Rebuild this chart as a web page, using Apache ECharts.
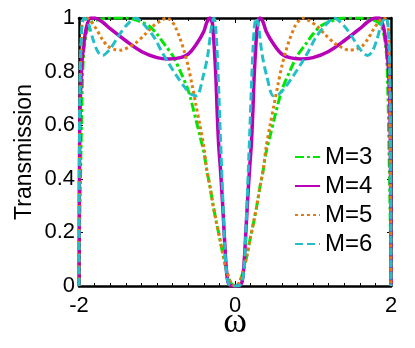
<!DOCTYPE html>
<html>
<head>
<meta charset="utf-8">
<script src="https://cdn.jsdelivr.net/npm/echarts@6/dist/echarts.min.js"></script>
<style>
html,body{margin:0;padding:0;background:#fff;}
#chart{width:415px;height:348px;}
</style>
</head>
<body>
<div id="chart"></div>
<script>
// Series names
var seriesNames = ['M=3', 'M=4', 'M=5', 'M=6'];
// Axis ticks
var xTicks = [-2, 0, 2];
var yTicks = [0, 0.2, 0.4, 0.6, 0.8, 1];

// M=3 (green, dash-dot)
var w3 = [-2.0,-1.99,-1.975,-1.96,-1.94,-1.9,-1.85,-1.8,-1.6,-1.4,-1.3,-1.2,-1.1,-1.0,-0.9,-0.8,-0.7,-0.6,-0.5,-0.45,-0.4,-0.36,-0.32,-0.28,-0.24,-0.19,-0.15,-0.1,-0.05,0,
          0.05,0.1,0.15,0.19,0.24,0.28,0.32,0.36,0.4,0.45,0.5,0.6,0.7,0.8,0.9,1.0,1.1,1.2,1.3,1.4,1.6,1.8,1.85,1.9,1.94,1.96,1.975,1.99,2.0];
var t3 = [0,0.25,0.5,0.72,0.87,0.95,0.98,0.99,1.0,1.0,0.995,0.985,0.97,0.94,0.9,0.86,0.8,0.73,0.62,0.56,0.5,0.43,0.37,0.3,0.24,0.17,0.11,0.05,0.01,0,
          0.01,0.05,0.11,0.17,0.24,0.3,0.37,0.43,0.5,0.56,0.62,0.73,0.8,0.86,0.9,0.94,0.97,0.985,0.995,1.0,1.0,0.99,0.98,0.95,0.87,0.72,0.5,0.25,0];

// M=4 (magenta, solid)
var w4 = [-2.0,-1.99,-1.97,-1.94,-1.9,-1.85,-1.8,-1.7,-1.6,-1.4,-1.2,-1.0,-0.85,-0.7,-0.6,-0.5,-0.4,-0.36,-0.32,-0.29,-0.27,-0.245,-0.23,-0.21,-0.19,-0.17,-0.15,-0.13,-0.11,-0.09,-0.06,0,
          0.06,0.09,0.11,0.13,0.15,0.17,0.19,0.21,0.23,0.245,0.27,0.29,0.32,0.36,0.4,0.5,0.6,0.7,0.85,1.0,1.2,1.4,1.6,1.7,1.8,1.85,1.9,1.94,1.97,1.99,2.0];
var t4 = [0,0.6,0.8,0.9,0.97,1.0,1.0,0.985,0.96,0.915,0.875,0.852,0.847,0.852,0.865,0.9,0.95,0.985,1.0,0.98,0.91,0.78,0.66,0.53,0.45,0.36,0.26,0.15,0.06,0.015,0.002,0,
          0.002,0.015,0.06,0.15,0.26,0.36,0.45,0.53,0.66,0.78,0.91,0.98,1.0,0.985,0.95,0.9,0.865,0.852,0.847,0.852,0.875,0.915,0.96,0.985,1.0,1.0,0.97,0.9,0.8,0.6,0];

// M=5 (orange, dotted)
var w5 = [-2.0,-1.99,-1.97,-1.95,-1.9,-1.84,-1.77,-1.7,-1.63,-1.55,-1.46,-1.37,-1.28,-1.15,-1.05,-0.95,-0.87,-0.82,-0.77,-0.7,-0.65,-0.6,-0.55,-0.5,-0.45,-0.4,-0.36,-0.32,-0.28,-0.24,-0.19,-0.15,-0.1,-0.05,0,
          0.05,0.1,0.15,0.19,0.24,0.28,0.32,0.36,0.4,0.45,0.5,0.55,0.6,0.65,0.7,0.77,0.82,0.87,0.95,1.05,1.15,1.28,1.37,1.46,1.55,1.63,1.7,1.77,1.84,1.9,1.95,1.97,1.99,2.0];
var t5 = [0,0.6,0.93,0.99,1.0,0.985,0.955,0.92,0.895,0.883,0.88,0.89,0.905,0.94,0.97,0.99,1.0,0.99,0.97,0.92,0.875,0.82,0.75,0.675,0.6,0.52,0.43,0.37,0.3,0.24,0.17,0.11,0.05,0.01,0,
          0.01,0.05,0.11,0.17,0.24,0.3,0.37,0.43,0.52,0.6,0.675,0.75,0.82,0.875,0.92,0.97,0.99,1.0,0.99,0.97,0.94,0.905,0.89,0.88,0.883,0.895,0.92,0.955,0.985,1.0,0.99,0.93,0.6,0];

// M=6 (cyan, dashed)
var w6 = [-2.0,-1.995,-1.985,-1.96,-1.93,-1.88,-1.82,-1.76,-1.7,-1.6,-1.5,-1.4,-1.27,-1.15,-1.03,-0.95,-0.86,-0.75,-0.64,-0.56,-0.49,-0.41,-0.35,-0.3,-0.27,-0.25,-0.23,-0.21,-0.19,-0.17,-0.15,-0.13,-0.11,-0.09,-0.06,0,
          0.06,0.09,0.11,0.13,0.15,0.17,0.19,0.21,0.23,0.25,0.27,0.3,0.35,0.41,0.49,0.56,0.64,0.75,0.86,0.95,1.03,1.15,1.27,1.4,1.5,1.6,1.7,1.76,1.82,1.88,1.93,1.96,1.985,1.995,2.0];
var t6 = [0,0.5,0.8,0.98,1.0,0.98,0.92,0.875,0.86,0.885,0.93,0.97,1.0,0.97,0.925,0.88,0.835,0.785,0.74,0.715,0.71,0.78,0.86,0.97,1.0,0.97,0.88,0.74,0.58,0.43,0.28,0.14,0.05,0.015,0.002,0,
          0.002,0.015,0.05,0.14,0.28,0.43,0.58,0.74,0.88,0.97,1.0,0.97,0.86,0.78,0.71,0.715,0.74,0.785,0.835,0.88,0.925,0.97,1.0,0.97,0.93,0.885,0.86,0.875,0.92,0.98,1.0,0.98,0.8,0.5,0];

function pairs(w, t) {
  var out = [];
  for (var i = 0; i < w.length; i++) out.push([w[i], t[i]]);
  return out;
}

var FONT = 'Liberation Sans, Arial, sans-serif';
var chart = echarts.init(document.getElementById('chart'), null, {renderer: 'canvas'});

function makeSeries(name, w, t, color, type, width) {
  return {
    name: name,
    type: 'line',
    data: pairs(w, t),
    symbol: 'none',
    showSymbol: false,
    smooth: 0.3,
    lineStyle: {color: color, width: width, type: type, cap: 'butt'},
    itemStyle: {color: color},
    xAxisIndex: 0,
    yAxisIndex: 0
  };
}

var axisLineStyle = {color: '#000', width: 2.5};

chart.setOption({
  animation: false,
  backgroundColor: '#fff',
  grid: {left: 79, right: 24, top: 18, bottom: 62, containLabel: false, outerBoundsMode: 'none'},
  legend: {
    orient: 'vertical',
    left: 294,
    top: 145,
    padding: 0,
    itemWidth: 25,
    itemHeight: 14,
    itemGap: 5,
    data: seriesNames,
    itemStyle: {opacity: 0},
    textStyle: {fontFamily: FONT, fontSize: 24, color: '#000', lineHeight: 24}
  },
  xAxis: [{
    type: 'value',
    min: -2, max: 2, interval: 2,
    position: 'bottom',
    name: 'ω',
    nameLocation: 'middle',
    nameMoveOverlap: false,
    nameGap: 19,
    nameTextStyle: {fontFamily: 'Liberation Serif, DejaVu Serif, serif', fontSize: 36, color: '#000', lineHeight: 36},
    axisLine: {show: true, onZero: false, lineStyle: axisLineStyle},
    axisTick: {show: true, inside: true, length: 5, lineStyle: {color: '#000', width: 1}},
    minorTick: {show: true, splitNumber: 10, length: 3, lineStyle: {color: '#000', width: 1}},
    splitLine: {show: false},
    axisLabel: {fontFamily: FONT, fontSize: 22, color: '#000', margin: 9,
      customValues: xTicks}
  }, {
    type: 'value',
    min: -2, max: 2, interval: 2,
    position: 'top',
    axisLine: {show: true, onZero: false, lineStyle: axisLineStyle},
    axisTick: {show: true, inside: true, length: 5, lineStyle: {color: '#000', width: 1}},
    minorTick: {show: true, splitNumber: 10, length: 3, lineStyle: {color: '#000', width: 1}},
    splitLine: {show: false},
    axisLabel: {show: false}
  }],
  yAxis: [{
    type: 'value',
    min: 0, max: 1, interval: 0.2,
    position: 'left',
    name: 'Transmission',
    nameLocation: 'middle',
    nameMoveOverlap: false,
    nameRotate: 90,
    nameGap: 43,
    nameTextStyle: {fontFamily: FONT, fontSize: 23, color: '#000'},
    axisLine: {show: true, onZero: false, lineStyle: axisLineStyle},
    axisTick: {show: true, inside: true, length: 4, lineStyle: {color: '#000', width: 1}},
    splitLine: {show: false},
    axisLabel: {fontFamily: FONT, fontSize: 22, color: '#000', margin: 4,
      customValues: yTicks}
  }, {
    type: 'value',
    min: 0, max: 1, interval: 0.2,
    position: 'right',
    axisLine: {show: true, onZero: false, lineStyle: axisLineStyle},
    axisTick: {show: true, inside: true, length: 4, lineStyle: {color: '#000', width: 1}},
    splitLine: {show: false},
    axisLabel: {show: false}
  }],
  series: [
    makeSeries(seriesNames[0], w3, t3, '#00e600', [9, 3, 3, 3], 3),
    makeSeries(seriesNames[1], w4, t4, '#b800b8', 'solid', 3.5),
    makeSeries(seriesNames[2], w5, t5, '#e07c10', [3, 3], 3),
    makeSeries(seriesNames[3], w6, t6, '#22bfc8', [8, 4], 3)
  ]
});
</script>
</body>
</html>
